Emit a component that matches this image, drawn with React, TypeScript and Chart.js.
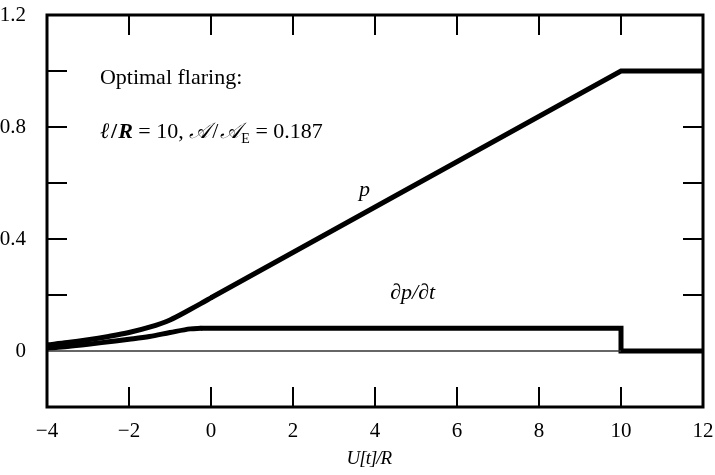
import React, { useEffect, useRef } from "react";
import { Chart, registerables } from "chart.js";

Chart.register(...registerables);

// p curve: smooth rise, then straight ramp and plateau
const pRiseX = [-4, -3.5, -3, -2.5, -2, -1.5, -1, -0.5, -0.25, 0];
const pRiseY = [0.022, 0.03, 0.04, 0.052, 0.066, 0.085, 0.111, 0.149, 0.169, 0.19];
const pRampX = [0, 10, 12];
const pRampY = [0.19, 1.0, 1.0];

// dp/dt curve: smooth rise, then plateau and drop
const dRiseX = [-4, -3.5, -3, -2.5, -2, -1.5, -1, -0.5, -0.25];
const dRiseY = [0.01, 0.016, 0.024, 0.033, 0.042, 0.052, 0.066, 0.079, 0.081];
const dStepX = [-0.25, 10, 10, 12];
const dStepY = [0.081, 0.081, 0, 0];

// thin zero line
const zX = [-4, 10];
const zY = [0, 0];

const xTickValues = [-4, -2, 0, 2, 4, 6, 8, 10, 12];
const yLabelValues = [0, 0.4, 0.8, 1.2];
const minorTickX = [-2, 0, 2, 4, 6, 8, 10];
const minorTickY = [0.2, 0.4, 0.6, 0.8, 1.0];

const SERIF = "'Liberation Serif', 'Times New Roman', serif";

const zeroPad = (s: any) => {
  s.paddingLeft = 0;
  s.paddingRight = 0;
  s.paddingTop = 0;
  s.paddingBottom = 0;
};

const frame = {
  id: "frame",
  afterDraw(chart: any) {
    const { ctx, chartArea: a, scales } = chart;
    const xs = scales.x;
    const ys = scales.y;
    ctx.save();
    ctx.strokeStyle = "#000";
    ctx.lineWidth = 2;
    const tl = 20;
    ctx.beginPath();
    for (const v of minorTickX) {
      const px = Math.round(xs.getPixelForValue(v));
      ctx.moveTo(px, a.bottom);
      ctx.lineTo(px, a.bottom - tl);
      ctx.moveTo(px, a.top);
      ctx.lineTo(px, a.top + tl);
    }
    for (const v of minorTickY) {
      const py = Math.round(ys.getPixelForValue(v));
      ctx.moveTo(a.left, py);
      ctx.lineTo(a.left + tl, py);
      ctx.moveTo(a.right, py);
      ctx.lineTo(a.right - tl, py);
    }
    ctx.stroke();
    ctx.lineWidth = 3;
    ctx.strokeRect(a.left, a.top, a.right - a.left, a.bottom - a.top);

    ctx.fillStyle = "#000";
    ctx.textBaseline = "alphabetic";
    ctx.textAlign = "left";
    // Optimal flaring
    ctx.font = `22px ${SERIF}`;
    ctx.fillText("Optimal flaring:", xs.getPixelForValue(-2.71), ys.getPixelForValue(0.955));

    // second line
    let x = xs.getPixelForValue(-2.71);
    const y = ys.getPixelForValue(0.762);
    const seg = (t: string, font: string, dy = 0, gap = 0) => {
      ctx.font = font;
      ctx.fillText(t, x, y + dy);
      x += ctx.measureText(t).width + gap;
    };
    const rom = `22px ${SERIF}`;
    const it = `italic 22px ${SERIF}`;
    seg("ℓ", it, 0, 2);
    seg("/", `bold 22px ${SERIF}`, 0, 1);
    seg("R", `italic bold 22px ${SERIF}`);
    seg(" = 10, ", rom);
    seg("𝒜", it, 0, 2);
    seg("/", rom, 0, 2);
    seg("𝒜", it);
    seg("E", `14px ${SERIF}`, 5);
    seg(" = 0.187", rom);

    // p label
    ctx.font = `italic 22px ${SERIF}`;
    ctx.fillText("p", xs.getPixelForValue(3.61), ys.getPixelForValue(0.555));
    // dp/dt label
    ctx.fillText("∂p/∂t", xs.getPixelForValue(4.37), ys.getPixelForValue(0.1875));

    // x axis title
    ctx.textAlign = "center";
    ctx.font = `italic 19px ${SERIF}`;
    try {
      (ctx as any).letterSpacing = "-1px";
    } catch (e) {}
    ctx.fillText("U[t]/R", xs.getPixelForValue(3.85), 464);
    ctx.restore();
  },
};

export default function App() {
  const ref = useRef<HTMLCanvasElement | null>(null);
  useEffect(() => {
    if (!ref.current) return;
    const toPts = (xs: number[], ys: number[]) => xs.map((v, i) => ({ x: v, y: ys[i] }));
    const thick = (xs: number[], ys: number[], smooth: boolean) => ({
      data: toPts(xs, ys),
      borderColor: "#000",
      borderWidth: 5,
      pointRadius: 0,
      borderJoinStyle: "miter",
      borderCapStyle: smooth ? "round" : "butt",
      cubicInterpolationMode: smooth ? "monotone" : "default",
      tension: 0,
    });
    const chart = new Chart(ref.current, {
      type: "line",
      data: {
        datasets: [
          {
            data: toPts(zX, zY),
            borderColor: "#333",
            borderWidth: 1.5,
            pointRadius: 0,
          },
          thick(dRiseX, dRiseY, true),
          thick(dStepX, dStepY, false),
          thick(pRiseX, pRiseY, true),
          thick(pRampX, pRampY, false),
        ] as any,
      },
      options: {
        animation: false,
        responsive: true,
        maintainAspectRatio: false,
        layout: { padding: { top: 15, right: 12, left: 0, bottom: 0 } },
        plugins: { legend: { display: false }, tooltip: { enabled: false }, title: { display: false } },
        scales: {
          x: {
            type: "linear",
            min: -4,
            max: 12,
            afterBuildTicks: (s: any) => {
              s.ticks = xTickValues.map((v) => ({ value: v }));
            },
            afterFit: (s: any) => {
              s.height = 68;
              zeroPad(s);
            },
            grid: { display: false },
            border: { display: false },
            ticks: {
              color: "#000",
              font: { family: SERIF, size: 21 },
              padding: 4,
              maxRotation: 0,
              callback: (v: any) => String(v).replace("-", "−"),
            },
          },
          y: {
            type: "linear",
            min: -0.2,
            max: 1.2,
            afterBuildTicks: (s: any) => {
              s.ticks = yLabelValues.map((v) => ({ value: v }));
            },
            afterFit: (s: any) => {
              s.width = 47;
              zeroPad(s);
            },
            grid: { display: false },
            border: { display: false },
            ticks: {
              color: "#000",
              font: { family: SERIF, size: 21 },
              padding: 13,
              callback: (v: any) => String(Math.round(Number(v) * 10) / 10),
            },
          },
        },
      },
      plugins: [frame],
    });
    return () => chart.destroy();
  }, []);
  return (
    <div style={{ position: "fixed", left: 0, top: 0, width: 715, height: 475, background: "#fff" }}>
      <canvas ref={ref} />
    </div>
  );
}
